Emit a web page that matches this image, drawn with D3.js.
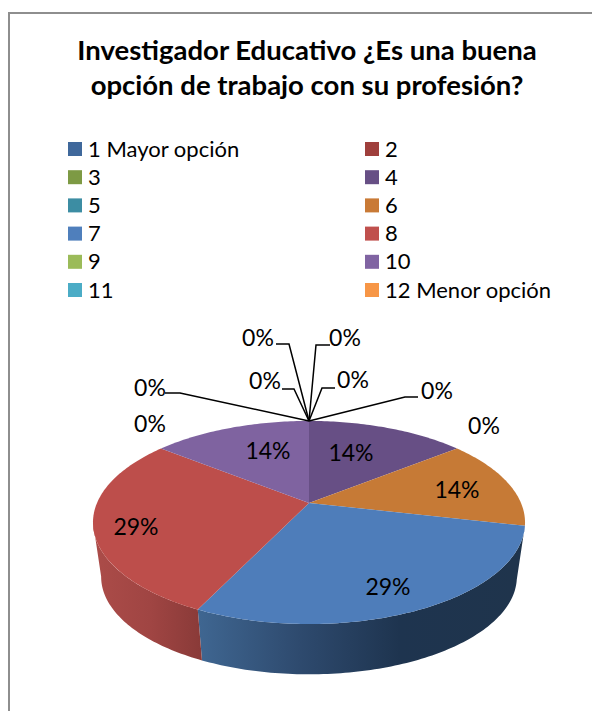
<!DOCTYPE html>
<html><head><meta charset="utf-8">
<script src="https://cdn.jsdelivr.net/npm/d3@7"></script>
<style>html,body{margin:0;padding:0;background:#fff;overflow:hidden}svg{display:block}text{font-family:Lato,"Open Sans",sans-serif;fill:#000}</style>
</head><body><div id="chart"></div>
<script>
const titleLines = ["Investigador Educativo ¿Es una buena", "opción de trabajo con su profesión?"];
const categories = ["1 Mayor opción","2","3","4","5","6","7","8","9","10","11","12 Menor opción"];
const legendColors = ["#3f689b","#9f3f3c","#7d9a44","#674f85","#3c8da3","#c97a36","#4f7fbc","#c0504d","#9bbb59","#8064a2","#4bacc6","#f79646"];
// Thirteen percentage labels are drawn, so the last value is an unnamed empty series.
const values = [0,0,0,1,0,1,2,2,0,1,0,0,0];
const sliceColors = ["#3f689b","#9f3f3c","#7d9a44","#674f85","#3c8da3","#c67a36","#4e7dba","#bd4e4b","#9bbb59","#7f63a0","#4bacc6","#f79646","#999999"];

// Layout only: label anchor and optional leader elbow and start, per series.
const labelLayout = [
  {x:258,y:338,from:[276,344],elbow:[289,344]},
  {x:345,y:338,from:[330,345],elbow:[316,345]},
  {x:265,y:381,from:[282,389],elbow:[294,389]},
  {x:351,y:453},
  {x:484,y:426},
  {x:457,y:490},
  {x:388,y:587},
  {x:136,y:527},
  {x:353,y:380,from:[335,388],elbow:[322,388]},
  {x:268,y:451},
  {x:150,y:388,from:[165,393],elbow:[180,393]},
  {x:437,y:391,from:[418,397],elbow:[405,397]},
  {x:150,y:424}
];

const W=592,H=711;
const svg=d3.select("#chart").append("svg").attr("width",W).attr("height",H);
svg.append("rect").attr("width",W).attr("height",H).attr("fill","#fff");
svg.append("path").attr("d",`M9,${H}V13H${W}`).attr("fill","none").attr("stroke","#8e8e8e").attr("stroke-width",2);

svg.selectAll("text.title").data(titleLines).join("text").attr("class","title")
  .attr("x",307).attr("y",(d,i)=>60+i*35).attr("text-anchor","middle")
  .attr("font-size",27.5).attr("font-weight",700).text(d=>d);

// legend
const rowY=d3.scalePoint().domain(d3.range(6)).range([149,290]);
const colX=d3.scalePoint().domain([0,1]).range([68,365]);
const leg=svg.selectAll("g.leg").data(categories).join("g").attr("class","leg")
  .attr("transform",(d,i)=>`translate(${colX(i%2)},${rowY(Math.floor(i/2))})`);
leg.append("rect").attr("y",-7).attr("width",14).attr("height",14).attr("fill",(d,i)=>legendColors[i]);
leg.append("text").attr("x",20).attr("y",7.5).attr("font-size",22).text(d=>d);

// projected pie: perspective view of a tilted disc
const cx=309;
const topFace={y0:503,a:212,b:97.8,k:0.192};
const botFace={y0:558,a:204,b:94,k:0.192};
function project(face,theta,r=1){
  const u=Math.sin(theta)*r,v=-Math.cos(theta)*r,w=1-face.k*v;
  return [cx+face.a*u/w, face.y0+face.b*v/w];
}
const total=d3.sum(values);
const arcs=d3.pie().sort(null).startAngle(0).endAngle(2*Math.PI)(values);
const line=d3.line().curve(d3.curveLinearClosed);
const step=Math.PI/180;
const sample=(a,b)=>{const n=Math.max(1,Math.ceil((b-a)/step));return d3.range(n+1).map(i=>a+(b-a)*i/n);};

const defs=svg.append("defs");
const wallStops={6:[[199,"#3f6691"],[300,"#2e4a6e"],[400,"#1e344f"],[517,"#1f344c"]],
                 7:[[101,"#aa4b48"],[150,"#a04543"],[202,"#893a38"]]};
Object.entries(wallStops).forEach(([i,stops])=>{
  const g=defs.append("linearGradient").attr("id","wall"+i).attr("gradientUnits","userSpaceOnUse")
    .attr("x1",stops[0][0]).attr("x2",stops[stops.length-1][0]).attr("y1",0).attr("y2",0);
  const off=d3.scaleLinear().domain([stops[0][0],stops[stops.length-1][0]]).range([0,1]);
  stops.forEach(s=>g.append("stop").attr("offset",off(s[0])).attr("stop-color",s[1]));
});
const visA=101*Math.PI/180, visB=259*Math.PI/180;
arcs.forEach((d,i)=>{
  if(d.value===0||!wallStops[i])return;
  const t=sample(Math.max(d.startAngle,visA),Math.min(d.endAngle,visB));
  const pts=t.map(a=>project(topFace,a)).concat(t.slice().reverse().map(a=>project(botFace,a)));
  svg.append("path").attr("d",line(pts)).attr("fill",`url(#wall${i})`);
});
arcs.forEach((d,i)=>{
  if(d.value===0)return;
  const pts=[project(topFace,0,0)].concat(sample(d.startAngle,d.endAngle).map(a=>project(topFace,a)));
  svg.append("path").attr("d",line(pts)).attr("fill",sliceColors[i]);
});

// leaders
const apex=project(topFace,0);
labelLayout.forEach(l=>{
  if(l.from) svg.append("path").attr("d",d3.line()([l.from,l.elbow,apex]))
    .attr("fill","none").attr("stroke","#000").attr("stroke-width",1.5);
});
// labels
const pct=d3.format(".0%");
svg.selectAll("text.lab").data(values).join("text").attr("class","lab")
  .attr("x",(d,i)=>labelLayout[i].x).attr("y",(d,i)=>labelLayout[i].y)
  .attr("dy","0.35em").attr("text-anchor","middle").attr("font-size",23)
  .text(d=>pct(d/total));
</script></body></html>
